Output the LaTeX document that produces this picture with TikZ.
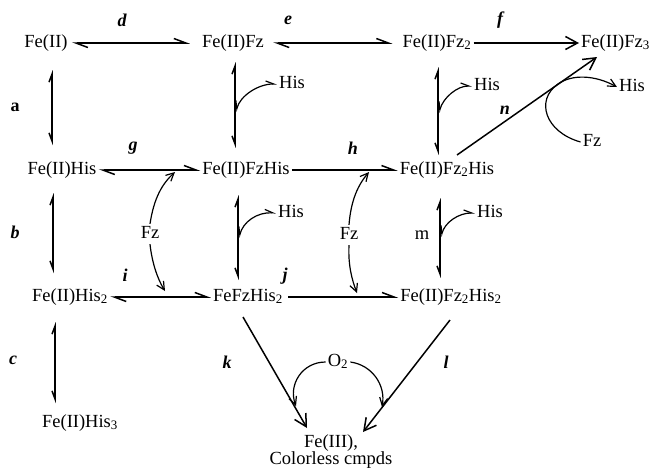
\documentclass[tikz,border=0pt]{standalone}
\usepackage{fontspec}
\setmainfont{Liberation Serif}
\usetikzlibrary{arrows.meta}
\tikzset{
  hbl/.tip={Straight Barb[left,length=12pt,width=9pt]},
  vbl/.tip={Straight Barb[left,length=8pt,width=6pt]},
  vbr/.tip={Straight Barb[right,length=8pt,width=6pt]},
  big/.tip={Straight Barb[length=12pt,width=13pt]},
  sml/.tip={Straight Barb[length=8pt,width=8pt]}
}
\begin{document}
\begin{tikzpicture}[x=1pt,y=-1pt,
  sp/.style={font=\fontsize{18.5}{17}\selectfont, inner sep=2pt, text height=12pt, text depth=4pt},
  tag/.style={font=\fontsize{18}{18}\selectfont\bfseries\itshape, inner sep=0pt},
  rxn/.style={line width=1.5pt},
  eqh/.style={rxn, hbl-hbl},
  eqv/.style={rxn, vbl-vbr},
  one/.style={rxn, -hbl},
  fwd/.style={rxn, -big},
  side/.style={line width=1.2pt, vbr-vbl},
  feed/.style={line width=1.2pt, -sml}
]
\useasboundingbox (0,0) rectangle (651,474);

% species
\node[sp] (fe)        at (46,43)  {Fe(II)};
\node[sp] (fefz)      at (233,43) {Fe(II)Fz};
\node[sp] (fefz2)     at (437,43) {Fe(II)Fz\textsubscript{2}};
\node[sp,anchor=west] (fefz3) at (579,43) {Fe(II)Fz\textsubscript{3}};
\node[sp] (fehis)     at (62,170) {Fe(II)His};
\node[sp] (fefzhis)   at (246,170) {Fe(II)FzHis};
\node[sp] (fefz2his)  at (447,170) {Fe(II)Fz\textsubscript{2}His};
\node[sp] (fehis2)    at (70,297) {Fe(II)His\textsubscript{2}};
\node[sp] (fefzhis2)  at (248,297) {FeFzHis\textsubscript{2}};
\node[sp] (fefz2his2) at (451,297) {Fe(II)Fz\textsubscript{2}His\textsubscript{2}};
\node[sp] (fehis3)    at (80,423) {Fe(II)His\textsubscript{3}};
\node[font=\fontsize{18.5}{17}\selectfont, inner sep=2pt, align=center] (fe3) at (331,452) {Fe(III),\\Colorless cmpds};

% ligands
\node[sp] (his1) at (292,84)  {His};
\node[sp] (his2) at (487,86)  {His};
\node[sp] (his3) at (632,87)  {His};
\node[sp] (his4) at (291,213) {His};
\node[sp] (his5) at (490,213) {His};
\node[sp] (fz1)  at (592,142) {Fz};
\node[sp] (fz2)  at (150,234) {Fz};
\node[sp] (fz3)  at (349,235) {Fz};
\node[sp] (o2)   at (338,362) {O\textsubscript{2}};

% step labels
\node[tag] (ld) at (122,20)  {d};
\node[tag] (le) at (288,20)  {e};
\node[tag] (lf) at (500,20)  {f};
\node[tag,font=\fontsize{18}{18}\selectfont\bfseries] (la) at (15,107) {a};
\node[tag] (lg) at (133,148) {g};
\node[tag] (lh) at (353,148) {h};
\node[tag] (ln) at (505,110) {n};
\node[tag] (lb) at (15,232)  {b};
\node[tag,font=\fontsize{18.5}{18}\selectfont] (lm) at (422,235) {m};
\node[tag] (li) at (125,275) {i};
\node[tag] (lj) at (285,276) {j};
\node[tag] (lc) at (13,360)  {c};
\node[tag] (lk) at (227,362) {k};
\node[tag] (ll) at (446,362) {l};

% end points of the vertical equilibria and other free ends
\coordinate (a1) at (52,70);   \coordinate (a2) at (52,145);
\coordinate (b1) at (53,193);  \coordinate (b2) at (53,273);
\coordinate (c1) at (55,322);  \coordinate (c2) at (55,403);
\coordinate (p1) at (235,62);  \coordinate (p2) at (235,148);
\coordinate (q1) at (438,67);  \coordinate (q2) at (438,155);
\coordinate (r1) at (238,195); \coordinate (r2) at (238,280);
\coordinate (s1) at (440,198); \coordinate (s2) at (440,278);
\coordinate (pm) at (236,112); \coordinate (qm) at (439,113);
\coordinate (rm) at (239,238); \coordinate (sm) at (441,237);
\coordinate (n1) at (457,155); \coordinate (n2) at (597,57);
\coordinate (k1) at (243,317); \coordinate (k2) at (307,428);
\coordinate (l1) at (450,320); \coordinate (l2) at (363,432);
\coordinate (nt) at (558,84);
\coordinate (gt) at (175,172); \coordinate (it) at (165,291);
\coordinate (ht) at (369,172); \coordinate (jt) at (357,293);
\coordinate (kt) at (296,406); \coordinate (lt) at (382,407);

% horizontal equilibria
\draw[eqh,shorten <=2pt,shorten >=10pt] (fe.east) -- (fefz.west);
\draw[eqh,shorten <=7pt,shorten >=8pt] (fefz.east) -- (fefz2.west);
\draw[eqh] (fehis.east) -- (fefzhis.west);
\draw[eqh] (fehis2.east) -- (fefzhis2.west);
\draw[one] (fefzhis.east) -- (fefz2his.west);
\draw[one,shorten <=3pt] (fefzhis2.east) -- (fefz2his2.west);
\draw[fwd] (fefz2.east) -- (fefz3.west);

% vertical equilibria
\draw[eqv] (a1) -- (a2);
\draw[eqv] (b1) -- (b2);
\draw[eqv] (c1) -- (c2);
\draw[eqv] (p1) -- (p2);
\draw[eqv] (q1) -- (q2);
\draw[eqv] (r1) -- (r2);
\draw[eqv] (s1) -- (s2);

% histidine released/bound along the vertical steps
\draw[side] (pm) .. controls (240,96) and (258,84) .. (his1.west);
\draw[side] (qm) .. controls (443,98) and (457,86) .. (his2.west);
\draw[side] (rm) .. controls (243,222) and (257,212) .. (his4.west);
\draw[side] (sm) .. controls (445,222) and (459,213) .. (his5.west);

% Fz entering the g/i and h/j steps
\draw[feed] (fz2.north) .. controls (154,198) and (162,184) .. (gt);
\draw[feed] (fz2.south) .. controls (152,262) and (157,278) .. (it);
\draw[feed] (fz3.north) .. controls (351,200) and (358,185) .. (ht);
\draw[feed] (fz3.south) .. controls (348,265) and (352,280) .. (jt);

% step n with Fz in and His out
\draw[fwd] (n1) -- (n2);
\draw[line width=1.2pt] (fz1.west) .. controls (545,132) and (535,100) .. (nt);
\draw[feed] (nt) .. controls (572,74) and (595,75) .. (his3.west);

% oxidation steps k and l
\draw[fwd] (k1) -- (k2);
\draw[fwd] (l1) -- (l2);
\draw[feed] (o2.west) .. controls (302,362) and (288,385) .. (kt);
\draw[feed] (o2.east) .. controls (372,365) and (386,385) .. (lt);
\end{tikzpicture}
\end{document}
